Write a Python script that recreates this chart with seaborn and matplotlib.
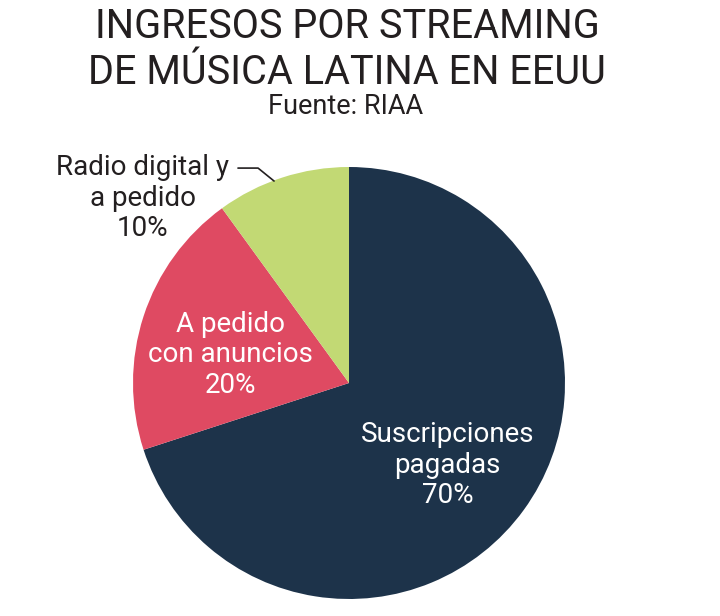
import numpy as np
import seaborn as sns
import matplotlib.pyplot as plt

# data
categorias = ["Suscripciones\npagadas", "A pedido\ncon anuncios", "Radio digital y\na pedido"]
porcentajes = [70, 20, 10]
colores = ["#1d334a", "#df4a62", "#c2d974"]
color_texto = ["white", "white", "#231f20"]

sns.set_theme(style="white")
plt.rcParams["font.family"] = ["Roboto", "DejaVu Sans"]

fig = plt.figure(figsize=(7.2, 6.16), dpi=100)
fig.patch.set_facecolor("white")

# pie axes: center (349, 383) px, radius 216 px
cx, cy, r = 349, 383, 216
lim = 1.02
w = 2 * r * lim
ax = fig.add_axes([(cx - r * lim) / 720, (616 - cy - r * lim) / 616, w / 720, w / 616])

wedges, _ = ax.pie(porcentajes, colors=sns.color_palette(colores), startangle=90,
                   counterclock=False, radius=1, wedgeprops=dict(linewidth=0))
ax.set_xlim(-lim, lim)
ax.set_ylim(-lim, lim)
ax.set_aspect("equal")
ax.axis("off")

# labels inside the big slices (small nudge from the mid-angle point)
nudges = [(-0.03, -0.027), (0.02, -0.055)]
for wdg, cat, pct, col, (dx, dy) in zip(wedges[:2], categorias[:2], porcentajes[:2],
                                       color_texto[:2], nudges):
    ang = np.deg2rad((wdg.theta1 + wdg.theta2) / 2)
    ax.text(0.6 * np.cos(ang) + dx, 0.6 * np.sin(ang) + dy,
            f"{cat}\n{pct}%", ha="center", va="center", color=col, fontsize=20,
            linespacing=1.18)

# small slice: outside label with leader line
ax.text(-0.954, 0.856, f"{categorias[2]}\n{porcentajes[2]}%", ha="center", va="center",
        color=color_texto[2], fontsize=20, linespacing=1.18)
ax.plot([-0.514, -0.421, -0.347], [0.995, 0.995, 0.935], color="#231f20", lw=1.2,
        clip_on=False)

fig.text(0.482, 1 - 27 / 616, "INGRESOS POR STREAMING", ha="center", va="center",
         fontsize=28.5, color="#231f20")
fig.text(0.482, 1 - 72 / 616, "DE MÚSICA LATINA EN EEUU", ha="center", va="center",
         fontsize=28.5, color="#231f20")
fig.text(0.48, 1 - 107 / 616, "Fuente: RIAA", ha="center", va="center",
         fontsize=19.5, color="#231f20")

fig.savefig("out.png", dpi=100, facecolor="white")
